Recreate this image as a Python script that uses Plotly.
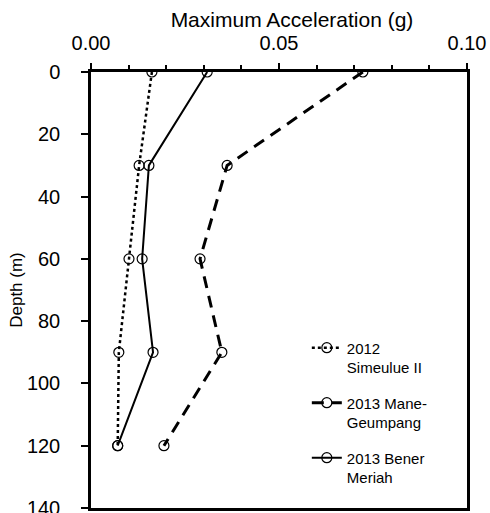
import plotly.graph_objects as go

depth = [0, 30, 60, 90, 120]
simeulue = [0.0162, 0.0128, 0.0101, 0.0074, 0.0071]
mane = [0.0723, 0.0362, 0.0290, 0.0348, 0.0194]
bener = [0.0309, 0.0154, 0.0136, 0.0165, 0.0071]
names = ["2012<br>Simeulue II", "2013 Mane-<br>Geumpang", "2013 Bener<br>Meriah"]

FONT = "Liberation Sans, Arial, sans-serif"
fig = go.Figure()
series = [(simeulue, "dot", 2.5), (mane, "12px,8px", 3), (bener, "solid", 2)]
for i, (vals, dash, w) in enumerate(series):
    fig.add_trace(go.Scatter(
        x=vals, y=depth, mode="lines+markers", name=names[i], legendgroup=str(i),
        line=dict(color="black", width=w, dash=dash),
        marker=dict(symbol="circle-open", size=10, color="black", line=dict(width=1.2)),
    ))

fig.update_layout(
    width=490, height=513,
    margin=dict(l=91, r=23, t=72, b=5, autoexpand=False),
    paper_bgcolor="white", plot_bgcolor="white",
    font=dict(family=FONT, size=20, color="black"),
    title=dict(text="Maximum Acceleration (g)", x=292/490, xref="container", xanchor="center",
               y=1-20/513, yref="container", yanchor="middle", font=dict(size=21)),
    showlegend=True,
    legend=dict(x=0.574, y=0.405, xanchor="left", yanchor="top", valign="top",
                font=dict(size=15), tracegroupgap=13, bgcolor="rgba(0,0,0,0)"),
    xaxis=dict(side="top", range=[0, 0.1], dtick=0.05, tickformat=".2f",
               ticks="outside", ticklen=6, tickwidth=2, tickcolor="black",
               minor=dict(dtick=0.01, ticks="outside", ticklen=4, tickwidth=2, tickcolor="black"),
               showline=True, linewidth=2.5, linecolor="black", mirror=True, automargin=False,
               showgrid=False, zeroline=False, ticklabelstandoff=5, ticklabeloverflow="allow"),
    yaxis=dict(range=[140, 0], dtick=20, ticks="outside", ticklen=7, tickwidth=2, tickcolor="black",
               showline=True, linewidth=2.5, linecolor="black", mirror=True, automargin=False,
               showgrid=False, zeroline=False, ticklabelstandoff=17, ticklabeloverflow="allow",
               title=dict(text="Depth (m)", font=dict(size=17), standoff=0)),
)
fig.write_html("out.html", config={"displayModeBar": False},
               post_script="document.body.style.margin='0';")
